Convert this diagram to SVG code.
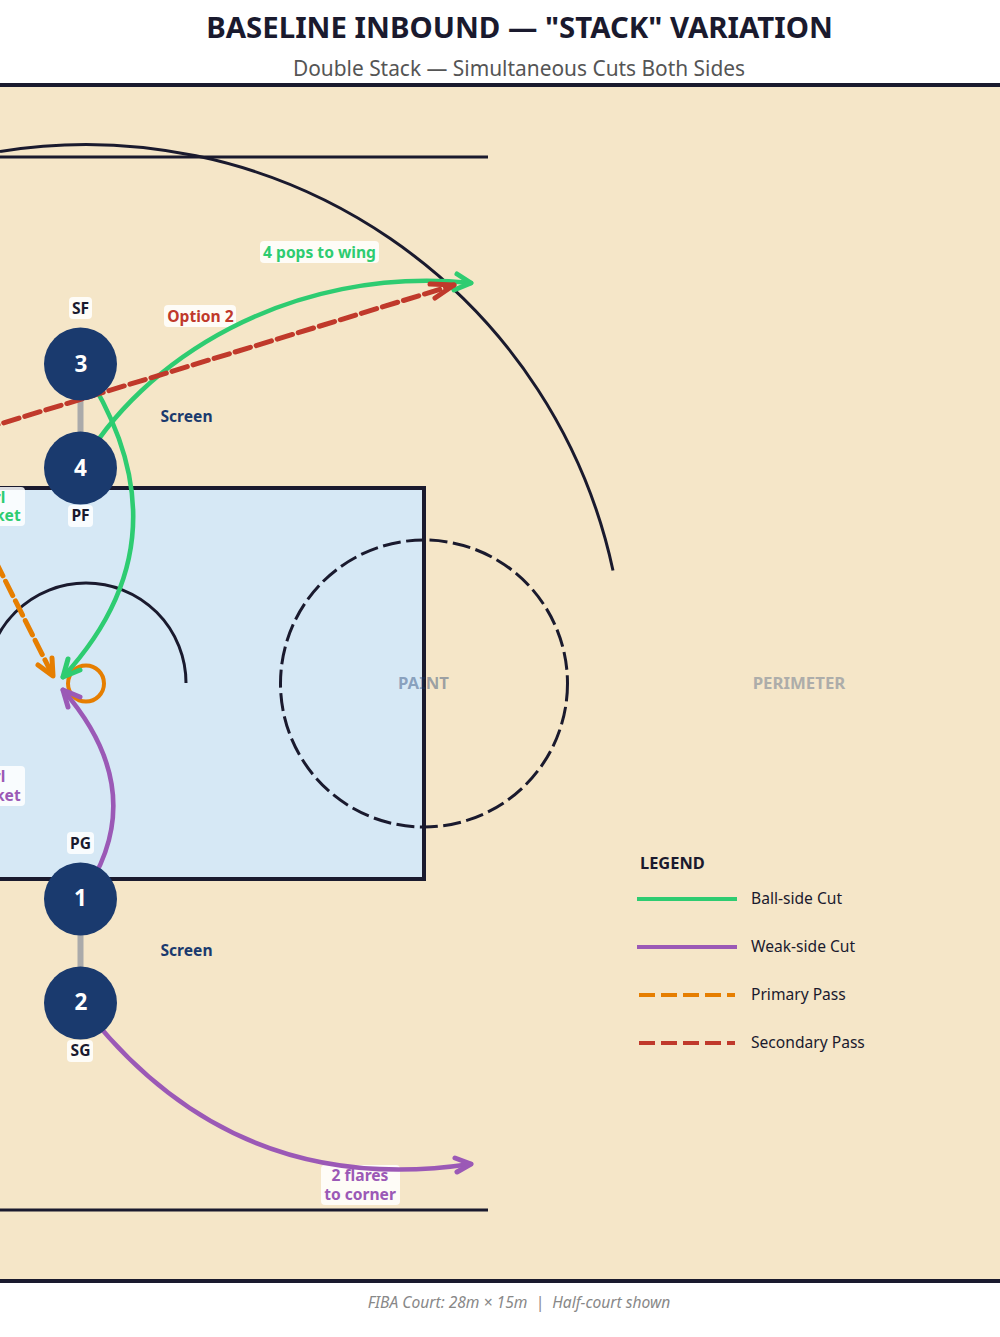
<svg xmlns="http://www.w3.org/2000/svg" width="1000" height="1337" viewBox="0 0 1000 1337">
<style>
text{font-family:"Noto Sans","Open Sans",sans-serif}
.ln{fill:none;stroke:#1a1a2e;stroke-width:3}
.c{fill:none;stroke-width:4.5;stroke-linecap:round}
.d{fill:none;stroke-width:5;stroke-linecap:round;stroke-dasharray:16 6}
.h{fill:none;stroke-width:5;stroke-linecap:round;stroke-linejoin:round}
.lb{fill:#fff;fill-opacity:.85}
.t{font-size:15.6px;font-weight:700;text-anchor:middle}
.p{fill:#1a1a2e}
.n{fill:#fff;font-size:22.5px;font-weight:700;text-anchor:middle}
.leg{font-size:15.6px;fill:#1a1a2e}
</style>
<rect width="1000" height="1337" fill="#fff"/>
<text x="519.5" y="38" font-size="29.400" font-weight="700" text-anchor="middle" fill="#1a1a2e">BASELINE INBOUND — "STACK" VARIATION</text>
<text x="519" y="75.500" font-size="20.9" text-anchor="middle" fill="#555">Double Stack — Simultaneous Cuts Both Sides</text>
<g id="court">
<rect x="-10" y="85" width="1020" height="1196" fill="#f5e6c8" stroke="#1a1a2e" stroke-width="4"/>
<rect x="-10" y="488" width="434" height="391" fill="#d6e8f5" stroke="#1a1a2e" stroke-width="4"/>
<path class="ln" d="M0 157H488M0 1210H488"/>
<circle cx="424" cy="683.500" r="143.500" class="ln" stroke-dasharray="18 5.500"/>
<path class="ln" d="M186 683A100 100 0 0 0 -14 683"/>
<path class="ln" d="M613 570.500A539 539 0 0 0 0 151.400"/>
<circle cx="86" cy="683.500" r="18" fill="none" stroke="#e67e00" stroke-width="4"/>
<text x="423.500" y="689" font-size="16.8" font-weight="700" text-anchor="middle" fill="#1a3a6e" fill-opacity=".42">PAINT</text>
<text x="799" y="689" font-size="16.8" font-weight="700" text-anchor="middle" fill="#adadaa">PERIMETER</text>
</g>
<g id="label-boxes">
<rect class="lb" x="-57" y="487" width="82" height="39" rx="4"/>
<rect class="lb" x="-57" y="766" width="82" height="40" rx="4"/>
<rect class="lb" x="260" y="241" width="119" height="22" rx="4"/>
<rect class="lb" x="164" y="305" width="72" height="22" rx="4"/>
<rect class="lb" x="321" y="1165" width="79" height="40" rx="4"/>
</g>
<g id="connectors">
<path d="M80.500 400V432M80.500 935V967" stroke="#aaa" stroke-width="6" fill="none"/>
<path class="c" stroke="#2ecc71" d="M80.500 364Q194 535 63 677"/>
<path class="h" stroke="#2ecc71" d="M68 659L63 677L80 670"/>
<path class="c" stroke="#2ecc71" d="M80.500 468C140 360 290 265 471 283"/>
<path class="h" stroke="#2ecc71" d="M457 274L471 283L454 290"/>
<path class="c" stroke="#9b59b6" d="M80.500 899Q154 795 63 690"/>
<path class="h" stroke="#9b59b6" d="M68 707L63 690L80 697"/>
<path class="c" stroke="#9b59b6" d="M80.500 1003Q230 1200 471 1164"/>
<path class="h" stroke="#9b59b6" d="M455 1158L471 1164L457 1172"/>
<path class="d" stroke="#c0392b" d="M-17.300 429.300L454 285"/>
<path class="h" stroke="#c0392b" d="M430 284L454 285L435 298"/>
<path class="d" stroke="#e67e00" d="M-14.100 541.900L53 676"/>
<path class="h" stroke="#e67e00" d="M52 658L53 676L38 665"/>
</g>
<g id="labels">
<text class="t" fill="#2ecc71" x="-16" y="503">3 curl</text><text class="t" fill="#2ecc71" x="-16" y="521">to basket</text>
<text class="t" fill="#9b59b6" x="-16" y="782">1 curl</text><text class="t" fill="#9b59b6" x="-16" y="801">to basket</text>
<text class="t" fill="#2ecc71" x="319.500" y="257.500">4 pops to wing</text>
<text class="t" fill="#c0392b" x="200.500" y="321.500">Option 2</text>
<text class="t" fill="#9b59b6" x="360" y="1180.500">2 flares</text><text class="t" fill="#9b59b6" x="360" y="1199.500">to corner</text>
<text class="t" fill="#1a3a6e" x="186.500" y="421.500">Screen</text>
<text class="t" fill="#1a3a6e" x="186.500" y="955.500">Screen</text>
</g>
<g id="n3"><circle cx="80.500" cy="364" r="36.500" fill="#1a3a6e"/><text class="n" x="81" y="372">3</text><rect class="lb" x="69" y="297" width="23" height="22" rx="4"/><text class="t p" x="80.500" y="313.500">SF</text></g>
<g id="n4"><circle cx="80.500" cy="468" r="36.500" fill="#1a3a6e"/><text class="n" x="80.500" y="475.500">4</text><rect class="lb" x="68" y="505" width="25" height="22" rx="4"/><text class="t p" x="80.500" y="521">PF</text></g>
<g id="n1"><circle cx="80.500" cy="899" r="36.500" fill="#1a3a6e"/><text class="n" x="80.500" y="906">1</text><rect class="lb" x="67" y="832" width="27" height="22" rx="4"/><text class="t p" x="80.500" y="848.500">PG</text></g>
<g id="n2"><circle cx="80.500" cy="1003" r="36.500" fill="#1a3a6e"/><text class="n" x="81" y="1010">2</text><rect class="lb" x="67" y="1040" width="26" height="22" rx="4"/><text class="t p" x="80.500" y="1055.500">SG</text></g>
<g id="legend">
<text x="640" y="869" font-size="16.400" font-weight="700" fill="#1a1a2e">LEGEND</text>
<path d="M637 899H737" stroke="#2ecc71" stroke-width="4"/><text class="leg" x="751" y="903.500">Ball-side Cut</text>
<path d="M637 947H737" stroke="#9b59b6" stroke-width="4"/><text class="leg" x="751" y="951.500">Weak-side Cut</text>
<path d="M639 995H735" stroke="#e67e00" stroke-width="4" stroke-dasharray="16 6"/><text class="leg" x="751" y="999.500">Primary Pass</text>
<path d="M639 1043H735" stroke="#c0392b" stroke-width="4" stroke-dasharray="16 6"/><text class="leg" x="751" y="1047.500">Secondary Pass</text>
</g>
<text x="519" y="1307.500" font-size="15.600" font-style="italic" text-anchor="middle" fill="#888" xml:space="preserve">FIBA Court: 28m × 15m  |  Half-court shown</text>
</svg>
